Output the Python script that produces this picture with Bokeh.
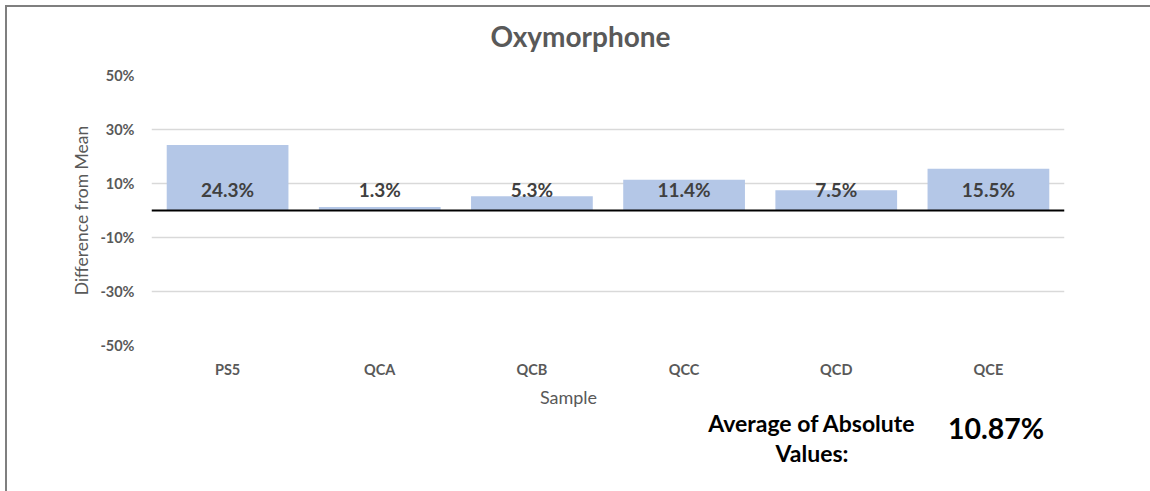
from bokeh.plotting import figure
from bokeh.layouts import column
from bokeh.models import (ColumnDataSource, FixedTicker, NumeralTickFormatter, Span, Range1d)
from bokeh.core.properties import value
from bokeh.embed import file_html
from bokeh.resources import INLINE

# ---- data ----
samples = ["PS5", "QCA", "QCB", "QCC", "QCD", "QCE"]
diffs = [0.243, 0.013, 0.053, 0.114, 0.075, 0.155]
y_ticks = [-0.5, -0.3, -0.1, 0.1, 0.3, 0.5]
title_text = "Oxymorphone"
x_title = "Sample"
y_title = "Difference from Mean"
avg_lines = ["Average of Absolute", "Values:"]
avg_text = "10.87%"

FONT = "Lato"
W = 1143
H0, H1, H2 = 53, 322, 109
FX0, FX1 = 151, 1064   # frame span in page pixels (strips share it)


def strip(h, top):
    f = figure(width=W, height=h, x_range=Range1d(FX0, FX1), y_range=Range1d(top + h, top),
               output_backend="svg", toolbar_location=None,
               min_border=0, min_border_left=FX0 - 7, min_border_right=7 + W - FX1,
               min_border_top=0, min_border_bottom=0)
    f.axis.visible = False
    f.grid.visible = False
    f.outline_line_color = None
    return f


# ---- top strip: title ----
t = strip(H0, 7)
t.text(x=[580], y=[35], text=[title_text], text_font=value(FONT), text_font_style="bold",
       text_font_size="28px", text_color="#595959", text_align="center",
       text_baseline="alphabetic")

# ---- main chart ----
src = ColumnDataSource(dict(
    sample=samples,
    diff=diffs,
    label=[f"{v*100:.1f}%" for v in diffs],
    label_y=[0.077] * len(samples),
))

p = figure(x_range=samples, y_range=Range1d(-0.5, 0.5), width=W, height=H1,
           output_backend="svg", toolbar_location=None,
           min_border_left=FX0 - 7, min_border_right=7 + W - FX1,
           min_border_top=15, min_border_bottom=37)
p.outline_line_color = None

p.vbar(x="sample", top="diff", bottom=0, width=0.8, source=src,
       fill_color="#B4C7E7", line_color=None)

p.add_layout(Span(location=0, dimension="width", line_color="black", line_width=2))

p.text(x="sample", y="label_y", text="label", source=src,
       text_font=value(FONT), text_font_style="bold", text_font_size="19px",
       text_color="#404040", text_align="center", text_baseline="alphabetic")

p.yaxis.ticker = FixedTicker(ticks=y_ticks)
p.yaxis.formatter = NumeralTickFormatter(format="0%")
p.yaxis.axis_line_color = None
p.yaxis.major_tick_line_color = None
p.yaxis.minor_tick_line_color = None
p.yaxis.major_tick_out = 0
p.yaxis.major_tick_in = 0
p.yaxis.major_label_standoff = 17
p.yaxis.major_label_text_font = FONT
p.yaxis.major_label_text_font_style = "bold"
p.yaxis.major_label_text_font_size = "14.5px"
p.yaxis.major_label_text_color = "#595959"
p.yaxis.axis_label = y_title
p.yaxis.axis_label_text_font = FONT
p.yaxis.axis_label_text_font_style = "normal"
p.yaxis.axis_label_text_font_size = "17.5px"
p.yaxis.axis_label_text_color = "#595959"
p.yaxis.axis_label_standoff = 5

p.xaxis.axis_line_color = None
p.xaxis.major_tick_line_color = None
p.xaxis.minor_tick_line_color = None
p.xaxis.major_tick_out = 0
p.xaxis.major_tick_in = 0
p.xaxis.major_label_standoff = 15
p.xaxis.major_label_text_font = FONT
p.xaxis.major_label_text_font_style = "bold"
p.xaxis.major_label_text_font_size = "14.5px"
p.xaxis.major_label_text_color = "#595959"

p.xgrid.grid_line_color = None
p.ygrid.grid_line_color = "#D9D9D9"
p.ygrid.grid_line_width = 1.5

# ---- bottom strip: axis title and summary ----
q = strip(H2, 382)
q.text(x=[568], y=[396], text=[x_title], text_font=value(FONT), text_font_size="18px",
       text_color="#595959", text_align="center", text_baseline="alphabetic")
q.text(x=[811.5, 811.5], y=[422, 452], text=avg_lines, text_font=value(FONT),
       text_font_style="bold", text_font_size="23px", text_color="black",
       text_align="center", text_baseline="alphabetic")
q.text(x=[995.5], y=[427], text=[avg_text], text_font=value(FONT),
       text_font_style="bold", text_font_size="28.5px", text_color="black",
       text_align="center", text_baseline="alphabetic")

layout = column(t, p, q, spacing=0)
layout.styles = {"margin-left": "5px", "margin-top": "5px",
                 "border-top": "2px solid #7f7f7f", "border-left": "2px solid #7f7f7f"}

open("out.html", "w").write(file_html(layout, INLINE))
